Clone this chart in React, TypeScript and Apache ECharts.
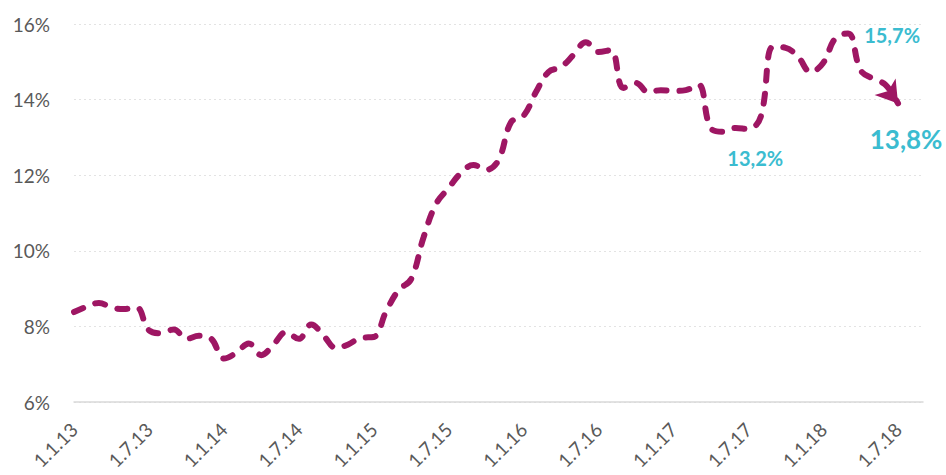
import React, { useEffect, useRef } from "react";
import * as echarts from "echarts";

const categories: string[] = [
  "1.1.13", "1.2.13", "1.3.13", "1.4.13", "1.5.13", "1.6.13", "1.7.13", "1.8.13", "1.9.13", "1.10.13", "1.11.13", "1.12.13",
  "1.1.14", "1.2.14", "1.3.14", "1.4.14", "1.5.14", "1.6.14", "1.7.14", "1.8.14", "1.9.14", "1.10.14", "1.11.14", "1.12.14",
  "1.1.15", "1.2.15", "1.3.15", "1.4.15", "1.5.15", "1.6.15", "1.7.15", "1.8.15", "1.9.15", "1.10.15", "1.11.15", "1.12.15",
  "1.1.16", "1.2.16", "1.3.16", "1.4.16", "1.5.16", "1.6.16", "1.7.16", "1.8.16", "1.9.16", "1.10.16", "1.11.16", "1.12.16",
  "1.1.17", "1.2.17", "1.3.17", "1.4.17", "1.5.17", "1.6.17", "1.7.17", "1.8.17", "1.9.17", "1.10.17", "1.11.17", "1.12.17",
  "1.1.18", "1.2.18", "1.3.18", "1.4.18", "1.5.18", "1.6.18", "1.7.18", "1.8.18", "1.9.18",
];

const rates: number[] = [
  8.38, 8.52, 8.62, 8.5, 8.46, 8.5, 7.9, 7.82, 7.92, 7.67, 7.75, 7.67,
  7.15, 7.3, 7.55, 7.24, 7.53, 7.85, 7.67, 8.05, 7.75, 7.43, 7.53, 7.7,
  7.72, 8.4, 8.96, 9.25, 10.36, 11.24, 11.66, 12.06, 12.27, 12.14, 12.4, 13.4,
  13.57, 14.2, 14.73, 14.86, 15.18, 15.52, 15.26, 15.31, 14.31, 14.44, 14.2, 14.25,
  14.23, 14.25, 14.4, 13.25, 13.15, 13.25, 13.22, 13.54, 15.4, 15.37, 15.13, 14.73,
  14.97, 15.63, 15.75, 14.78, 14.55, 14.39, 13.9,
];

const yTicks = { min: 6, max: 16, interval: 2 };

// annotations: index into rates, text, label offset, font size
const annotIndex: number[] = [62, 52, 66];
const annotText: string[] = ["15,7%", "13,2%", "13,8%"];
const annotOffset: [number, number][] = [[44, 2], [32, 26], [8, 36]];
const annotSize: number[] = [20, 20, 26];

const LINE = "#9E1663";
const TEAL = "#3BBCD0";
const GRAY = "#595959";

export default function App() {
  const ref = useRef<HTMLDivElement>(null);
  useEffect(() => {
    if (!ref.current) return;
    const chart = echarts.init(ref.current, undefined, { renderer: "svg" });
    const last = rates.length - 1;
    const seriesData = rates.map((v, i) =>
      i === last
        ? { value: v, symbol: "arrow", symbolSize: [20, 21], symbolRotate: -142 }
        : v
    );
    chart.setOption({
      animation: false,
      grid: { left: 74, right: 23, top: 24, bottom: 73 },
      xAxis: {
        type: "category",
        data: categories,
        boundaryGap: false,
        axisLine: { show: true, lineStyle: { color: "#D9D9D9", width: 1.5 } },
        axisTick: { show: false },
        splitLine: { show: false },
        axisLabel: {
          interval: 5,
          rotate: 45,
          margin: 24,
          color: GRAY,
          fontFamily: "Lato",
          fontSize: 19,
        },
      },
      yAxis: {
        type: "value",
        min: yTicks.min,
        max: yTicks.max,
        interval: yTicks.interval,
        axisLine: { show: false },
        axisTick: { show: false },
        splitLine: { show: true, lineStyle: { color: "#E3E3E3", type: [2, 3], width: 1 } },
        axisLabel: {
          formatter: "{value}%",
          color: GRAY,
          fontFamily: "Lato",
          fontSize: 19,
          margin: 24,
        },
      },
      series: [
        {
          type: "line",
          data: seriesData,
          smooth: 0.4,
          symbol: "none",
          showSymbol: true,
          showAllSymbol: true,
          itemStyle: { color: LINE },
          lineStyle: { color: LINE, width: 6, type: [10, 13], cap: "round" },
          markPoint: {
            symbol: "rect",
            symbolSize: 1,
            itemStyle: { color: "rgba(0,0,0,0)" },
            data: annotIndex.map((idx, k) => ({
              coord: [idx, rates[idx]],
              value: rates[idx],
              label: {
                show: true,
                position: "inside",
                offset: annotOffset[k],
                formatter: annotText[k],
                color: TEAL,
                fontFamily: "Lato",
                fontWeight: "bold",
                fontSize: annotSize[k],
              },
            })),
          },
        },
      ],
    });
    return () => chart.dispose();
  }, []);
  return (
    <div
      ref={ref}
      style={{ position: "absolute", left: 0, top: 0, width: 946, height: 475 }}
    />
  );
}
